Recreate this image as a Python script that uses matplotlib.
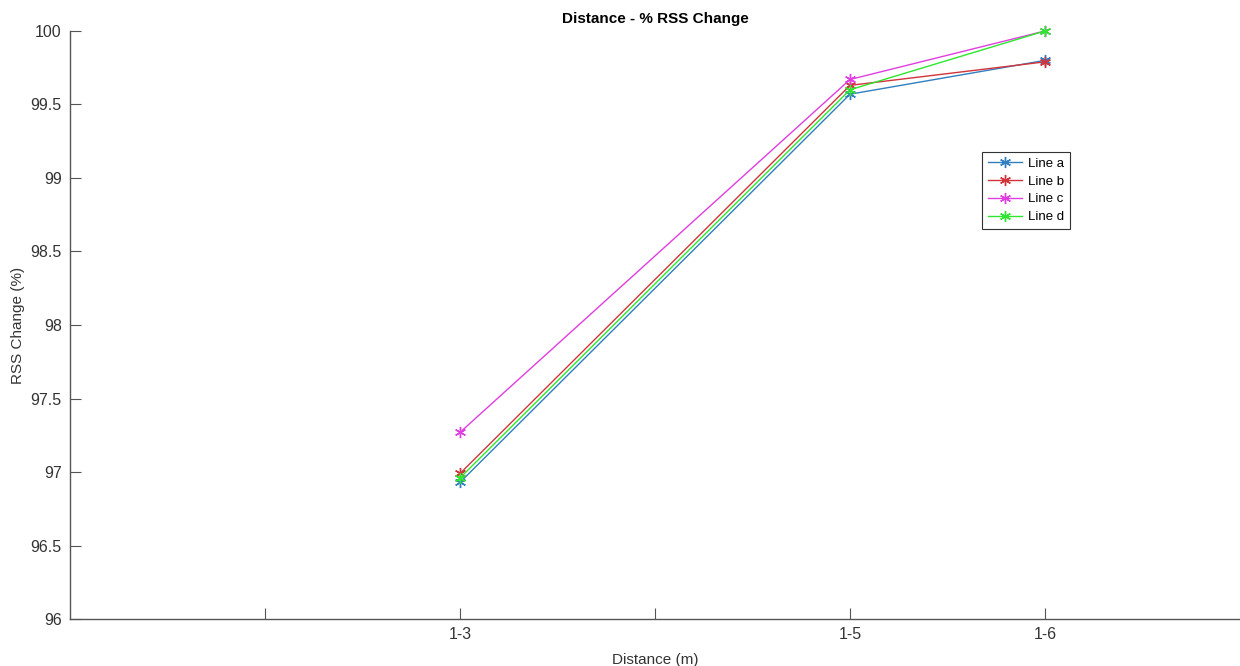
import numpy as np
import matplotlib
matplotlib.use("Agg")
import matplotlib.pyplot as plt

plt.rcParams['font.family'] = ['Liberation Sans', 'DejaVu Sans']

distance = [3, 5, 6]
tick_pos = [2, 3, 4, 5, 6]
tick_labels = ['', '1-3', '', '1-5', '1-6']

line_a = [96.93, 99.57, 99.80]
line_b = [96.99, 99.63, 99.79]
line_c = [97.27, 99.67, 100.0]
line_d = [96.96, 99.60, 100.0]

# asterisk marker like matlab '*'
ast = (6, 2, 0)

fig = plt.figure(figsize=(12.4, 6.66), dpi=100)
ax = fig.add_axes([0.0565, 0.0705, 0.9435, 0.883])

ax.plot(distance, line_a, '-', marker=ast, color='#2f7fc0', lw=1.0, ms=8, mew=1.0, label='Line a', clip_on=False)
ax.plot(distance, line_b, '-', marker=ast, color='#d0343a', lw=1.0, ms=8, mew=1.0, label='Line b', clip_on=False)
ax.plot(distance, line_c, '-', marker=ast, color='#e03ee0', lw=1.0, ms=8, mew=1.0, label='Line c', clip_on=False)
ax.plot(distance, line_d, '-', marker=ast, color='#2ee62e', lw=1.0, ms=8, mew=1.0, label='Line d', clip_on=False)

ax.set_xlim(1, 7)
ax.set_ylim(96, 100)
ax.set_xticks(tick_pos)
ax.set_xticklabels(tick_labels)
ax.set_yticks(np.arange(96, 100.01, 0.5))
ax.set_yticklabels(['96', '96.5', '97', '97.5', '98', '98.5', '99', '99.5', '100'])

for s in ['top', 'right']:
    ax.spines[s].set_visible(False)
for s in ['left', 'bottom']:
    ax.spines[s].set_color('#555555')
    ax.spines[s].set_linewidth(1.0)
ax.tick_params(direction='in', length=8, width=0.8, colors='#555555',
               labelcolor='#333333', labelsize=11.5, pad=6)

ax.set_title('Distance - % RSS Change', fontsize=11, fontweight='bold', pad=6)
ax.set_xlabel('Distance (m)', fontsize=11, color='#333333', labelpad=8)
ax.set_ylabel('RSS Change (%)', fontsize=11, color='#333333', labelpad=4)

leg = ax.legend(loc='upper left', bbox_to_anchor=(0.774, 0.806), fontsize=9.5,
                fancybox=False, framealpha=1, edgecolor='#333333',
                handlelength=2.6, borderpad=0.45, labelspacing=0.42,
                handletextpad=0.4)
leg.get_frame().set_linewidth(0.8)

fig.savefig('out.png', dpi=100, facecolor='white')
